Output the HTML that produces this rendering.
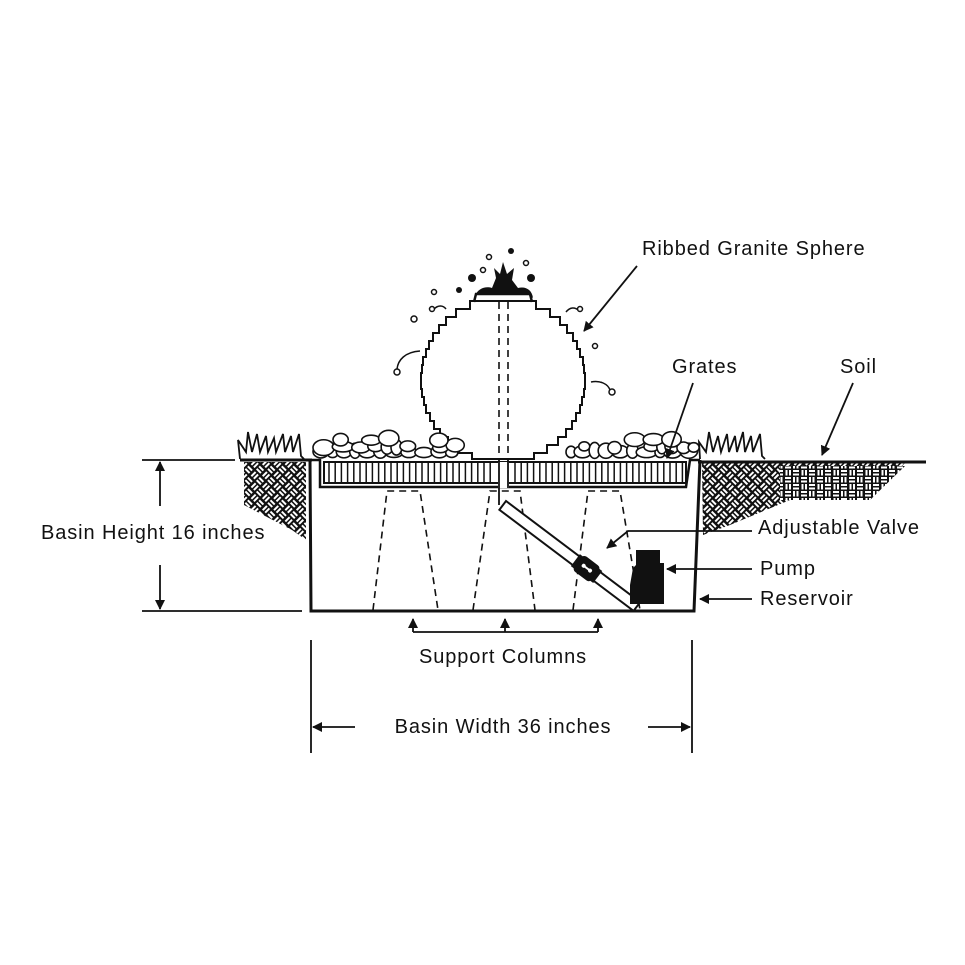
<!DOCTYPE html>
<html><head><meta charset="utf-8"><style>
html,body{margin:0;padding:0;background:#fff;}
svg{display:block;}
text{font-family:"Liberation Sans",sans-serif;font-size:20px;letter-spacing:0.9px;fill:#111;}
</style></head><body>
<svg id="s" width="965" height="965" viewBox="0 0 965 965" xmlns="http://www.w3.org/2000/svg">
<defs>
<pattern id="weave" width="16" height="16" patternUnits="userSpaceOnUse" patternTransform="rotate(45)">
<rect width="16" height="16" fill="#111"/>
<rect x="1" y="1.5" width="6" height="2" fill="#fff"/><rect x="1" y="5" width="6" height="2" fill="#fff"/>
<rect x="9.5" y="1" width="2" height="6" fill="#fff"/><rect x="13" y="1" width="2" height="6" fill="#fff"/>
<rect x="1.5" y="9" width="2" height="6" fill="#fff"/><rect x="5" y="9" width="2" height="6" fill="#fff"/>
<rect x="9" y="9.5" width="6" height="2" fill="#fff"/><rect x="9" y="13" width="6" height="2" fill="#fff"/>
</pattern>
<pattern id="weave2" width="16" height="14" patternUnits="userSpaceOnUse">
<rect width="16" height="14" fill="#111"/>
<rect x="1" y="1" width="6" height="2" fill="#fff"/><rect x="1" y="4.5" width="6" height="2" fill="#fff"/>
<rect x="9" y="1" width="2" height="5.5" fill="#fff"/><rect x="12.5" y="1" width="2" height="5.5" fill="#fff"/>
<rect x="1.5" y="8" width="2" height="5.5" fill="#fff"/><rect x="5" y="8" width="2" height="5.5" fill="#fff"/>
<rect x="9" y="8" width="6" height="2" fill="#fff"/><rect x="9" y="11.5" width="6" height="2" fill="#fff"/>
</pattern>
<marker id="ah" markerWidth="10" markerHeight="10" refX="9" refY="5" orient="auto" markerUnits="userSpaceOnUse"><path d="M0,0 L10,5 L0,10 z" fill="#111"/></marker>
</defs>

<path d="M244,462 L306,462 L306,540 L292,530 L244,505 Z" fill="url(#weave)"/>
<path d="M702,463 L905,463 L870,500 L790,500 L730,525 L703,535 Z" fill="url(#weave)"/>
<path d="M780,466 L905,466 L870,500 L780,500 Z" fill="url(#weave2)"/>

<line x1="240" y1="460" x2="312" y2="460" stroke="#111" stroke-width="3"/>
<line x1="698" y1="462" x2="926" y2="462" stroke="#111" stroke-width="3"/>

<path d="M240,459 L238,440 L246,452 L248,432 L252,452 L257,434 L260,452 L266,436 L268,452 L274,438 L276,452 L283,434 L285,452 L291,436 L293,452 L299,434 L301,456 L304,459" fill="none" stroke="#111" stroke-width="1.8"/>
<path d="M700,459 L699,442 L706,452 L709,432 L713,452 L718,436 L721,452 L727,434 L729,452 L735,436 L737,452 L743,432 L745,452 L751,436 L753,452 L760,434 L762,456 L765,459" fill="none" stroke="#111" stroke-width="1.8"/>

<path d="M310,460 L311,611 L694,611 L700,460" fill="none" stroke="#111" stroke-width="3"/>
<path d="M310,460 L320,460 L320,487 L686,487 L690,460 L700,460" fill="none" stroke="#111" stroke-width="2.5"/>
<rect x="324" y="462" width="362" height="21" fill="none" stroke="#111" stroke-width="2"/>
<g id="bars" stroke="#111" stroke-width="1.5"></g>

<g fill="none" stroke="#111" stroke-width="1.6" stroke-dasharray="7,5">
<path d="M373,610 L387,491 L420,491 L438,610"/>
<path d="M473,610 L490,491 L520,491 L535,610"/>
<path d="M573,610 L588,491 L620,491 L640,610"/>
</g>

<path id="sph" fill="#fff" stroke="#111" stroke-width="2"/>
<path d="M474,302 L476,294 L530,294 L532,302" fill="none" stroke="#111" stroke-width="2.5"/>
<path d="M475,296 C478,288 486,286 492,288 L496,278 L494,268 L500,274 L503,262 L507,274 L514,268 L512,280 L518,288 C526,286 532,290 533,298 L526,293 L480,293 Z" fill="#111"/>
<g fill="#111"><circle cx="511" cy="251" r="3"/><circle cx="472" cy="278" r="4"/><circle cx="531" cy="278" r="4"/><circle cx="459" cy="290" r="3"/></g>
<g fill="none" stroke="#111" stroke-width="1.5">
<circle cx="489" cy="257" r="2.5"/><circle cx="526" cy="263" r="2.5"/><circle cx="483" cy="270" r="2.5"/><circle cx="434" cy="292" r="2.5"/>
<circle cx="414" cy="319" r="3"/><circle cx="432" cy="309" r="2.5"/><circle cx="595" cy="346" r="2.5"/><circle cx="580" cy="309" r="2.5"/>
<circle cx="397" cy="372" r="3"/><circle cx="612" cy="392" r="3"/>
<path d="M434,309 C438,305 443,305 446,309"/><path d="M566,312 C570,307 575,307 578,310"/>
<path d="M397,369 C398,360 405,352 420,351"/><path d="M591,382 C600,380 608,384 610,390"/>
</g>
<g stroke="#111" stroke-width="1.6" stroke-dasharray="7,5"><line x1="499" y1="302" x2="499" y2="460"/><line x1="508" y1="302" x2="508" y2="460"/></g>

<g id="peb" fill="#fff" stroke="#111" stroke-width="1.6"></g>

<rect x="498" y="462" width="11" height="26" fill="#fff"/>
<path d="M499,460 L499,505 M508,460 L508,488" stroke="#111" stroke-width="1.8"/>
<g transform="translate(503,505) rotate(37)">
<rect x="0" y="-5" width="168" height="11" fill="#fff" stroke="#111" stroke-width="2"/>
<rect x="94" y="-9" width="22" height="19" rx="4" fill="#111"/>
<rect x="91" y="-7" width="4" height="15" fill="#111"/><rect x="115" y="-7" width="4" height="15" fill="#111"/>
<circle cx="101" cy="0" r="2" fill="#fff"/><circle cx="109" cy="0" r="2" fill="#fff"/><rect x="100" y="-1" width="10" height="2" fill="#fff"/>
</g>
<path d="M636,550 L660,550 L660,563 L664,563 L664,604 L630,604 L630,585 L633,568 L636,565 Z" fill="#111"/>

<g stroke="#111" stroke-width="1.8" fill="none">
<line x1="637" y1="266" x2="584" y2="331" marker-end="url(#ah)"/>
<line x1="693" y1="383" x2="667" y2="458" marker-end="url(#ah)"/>
<line x1="853" y1="383" x2="822" y2="455" marker-end="url(#ah)"/>
<path d="M752,531 L628,531 L607,548" marker-end="url(#ah)"/>
<line x1="752" y1="569" x2="667" y2="569" marker-end="url(#ah)"/>
<line x1="752" y1="599" x2="700" y2="599" marker-end="url(#ah)"/>
<line x1="142" y1="460" x2="235" y2="460"/>
<line x1="142" y1="611" x2="302" y2="611"/>
<line x1="160" y1="506" x2="160" y2="462" marker-end="url(#ah)"/>
<line x1="160" y1="565" x2="160" y2="609" marker-end="url(#ah)"/>
<line x1="413" y1="632" x2="598" y2="632"/>
<line x1="413" y1="632" x2="413" y2="619" marker-end="url(#ah)"/>
<line x1="505" y1="632" x2="505" y2="619" marker-end="url(#ah)"/>
<line x1="598" y1="632" x2="598" y2="619" marker-end="url(#ah)"/>
<line x1="311" y1="640" x2="311" y2="753"/>
<line x1="692" y1="640" x2="692" y2="753"/>
<line x1="355" y1="727" x2="313" y2="727" marker-end="url(#ah)"/>
<line x1="648" y1="727" x2="690" y2="727" marker-end="url(#ah)"/>
</g>
<text x="642" y="255">Ribbed Granite Sphere</text>
<text x="672" y="373">Grates</text>
<text x="840" y="373">Soil</text>
<text x="41" y="539">Basin Height 16 inches</text>
<text x="758" y="534">Adjustable Valve</text>
<text x="760" y="575">Pump</text>
<text x="760" y="605">Reservoir</text>
<text x="503" y="663" text-anchor="middle">Support Columns</text>
<text x="503" y="733" text-anchor="middle">Basin Width 36 inches</text>
</svg>
<script>
(function(){
var ns="http://www.w3.org/2000/svg";
var bars=document.getElementById("bars");
for(var x=329;x<684;x+=6.2){ if(x>495&&x<511)continue;
 var l=document.createElementNS(ns,"line");l.setAttribute("x1",x);l.setAttribute("x2",x);l.setAttribute("y1",462);l.setAttribute("y2",483);bars.appendChild(l);}
var cx=503,cy=380,r=82,st=8;
var hw=function(yy){var d=r*r-(yy-cy)*(yy-cy);return d>0?Math.sqrt(d):0;};
var right=[],left=[];
for(var y=301;y<458;y+=st){var y2=Math.min(y+st,459);var w=Math.round(hw((y+y2)/2));right.push([cx+w,y],[cx+w,y2]);left.push([cx-w,y],[cx-w,y2]);}
var d="M"+(cx-28)+",301 L"+(cx+28)+",301 ";
right.forEach(function(p){d+="L"+p[0]+","+p[1]+" ";});
d+="L508,459 L498,459 ";
left.reverse().forEach(function(p){d+="L"+p[0]+","+p[1]+" ";});
d+="Z";document.getElementById("sph").setAttribute("d",d);
var g=document.getElementById("peb");var seed=7;function rnd(){seed=(seed*9301+49297)%233280;return seed/233280;}
function row(x0,x1){for(var k=0;k<3;k++){var x=x0+(k==2?20:0);var xe=x1-(k==2?20:0);while(x<xe){var rx=5+rnd()*6,ry=4.5+rnd()*3.5;var yy=k==0?456-ry*0.7:(k==1?448-rnd()*3:441-rnd()*3);
 if(k>0&&rnd()<(k==1?0.25:0.55)){x+=rx*2;continue;}
 var e=document.createElementNS(ns,"ellipse");e.setAttribute("cx",x+rx);e.setAttribute("cy",yy);e.setAttribute("rx",rx);e.setAttribute("ry",ry);g.appendChild(e);x+=rx*2-2;}}}
row(313,455);row(566,690);
})();
</script>
</body></html>
